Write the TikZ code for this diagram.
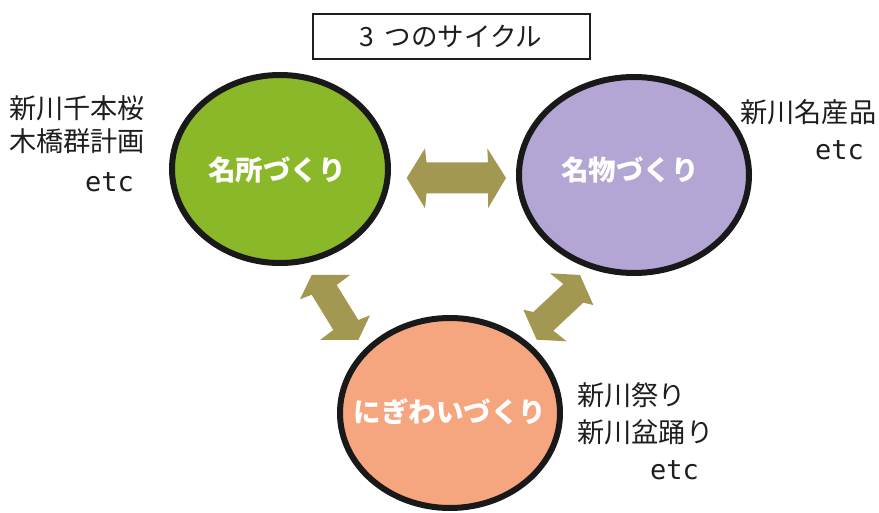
\documentclass[tikz,border=0pt]{standalone}
\usepackage{fontspec}
\newfontfamily\cjk{Noto Sans CJK JP}
\newfontfamily\etcfont{DejaVu Sans Mono}
\definecolor{arrowcol}{RGB}{163,152,82}
\definecolor{greenfill}{RGB}{139,184,40}
\definecolor{purplefill}{RGB}{180,166,212}
\definecolor{orangefill}{RGB}{246,166,126}
\definecolor{rim}{RGB}{25,25,25}
\definecolor{ink}{RGB}{30,30,30}
\usetikzlibrary{shapes.geometric}
\begin{document}
\begin{tikzpicture}[x=1pt,y=-1pt,
  cyc/.style={ellipse,draw=rim,line width=6pt,inner sep=0pt},
  cyclabel/.style={text=white,font=\cjk\bfseries\fontsize{27.5}{30}\selectfont},
  side/.style={text=ink,inner sep=0pt,anchor=west,font=\cjk\fontsize{27.2}{30}\selectfont},
  etcs/.style={text=ink,inner sep=0pt,anchor=base east,font=\etcfont\fontsize{27}{30}\selectfont},
  dbl/.style={fill=arrowcol}]
\useasboundingbox (0,0) rectangle (879,513);
\fill[white] (0,0) rectangle (879,513);

% title
\node[draw=ink,line width=2pt,minimum width=277pt,minimum height=45pt,inner sep=0pt,
  font=\cjk\fontsize{26.5}{28}\selectfont,text=ink] (title) at (451,36.5) {3\hspace{10pt}つのサイクル};

% circles
\node[cyc,fill=greenfill,minimum width=216pt,minimum height=188pt] (meisho) at (280,169) {};
\node[cyc,fill=purplefill,minimum width=230pt,minimum height=196pt] (meibutsu) at (634,175) {};
\node[cyc,fill=orangefill,minimum width=220pt,minimum height=190pt] (nigiwai) at (450,413) {};

\node[cyclabel] (l1) at (277,170) {名所づくり};
\node[cyclabel] (l2) at (630,170) {名物づくり};
\node[cyclabel] (l3) at (450,412) {にぎわいづくり};

% double arrows
\fill[dbl] (406.7,178) -- (425,148.3) -- (426.5,162.5) -- (488,162.5) -- (487.3,148.3)
  -- (506,178) -- (488,208.3) -- (488,193.5) -- (426.5,193.5) -- (425,208.3) -- cycle;
\fill[dbl] (300,299.3) -- (311.7,275) -- (350,275) -- (336.7,285) -- (358.3,320)
  -- (370,315.3) -- (358.3,340) -- (320,340) -- (333.3,330) -- (311.7,294.7) -- cycle;
\fill[dbl] (550,273.3) -- (580,275) -- (593.3,305) -- (583.3,302.7) -- (553.3,330.7)
  -- (566.7,341.3) -- (536.7,339.7) -- (523.3,309.7) -- (533.3,312) -- (563.3,284) -- cycle;

% side texts
\node[side] (a1) at (9,108.5) {新川千本桜};
\node[side] (a2) at (9,141.5) {木橋群計画};
\node[etcs] (a3) at (134,192) {etc};

\node[side] (b1) at (740,112.5) {新川名産品};
\node[etcs] (b2) at (864,160) {etc};

\node[side] (c1) at (577,395) {新川祭り};
\node[side] (c2) at (577,432.5) {新川盆踊り};
\node[etcs] (c3) at (699,479.5) {etc};
\end{tikzpicture}
\end{document}
